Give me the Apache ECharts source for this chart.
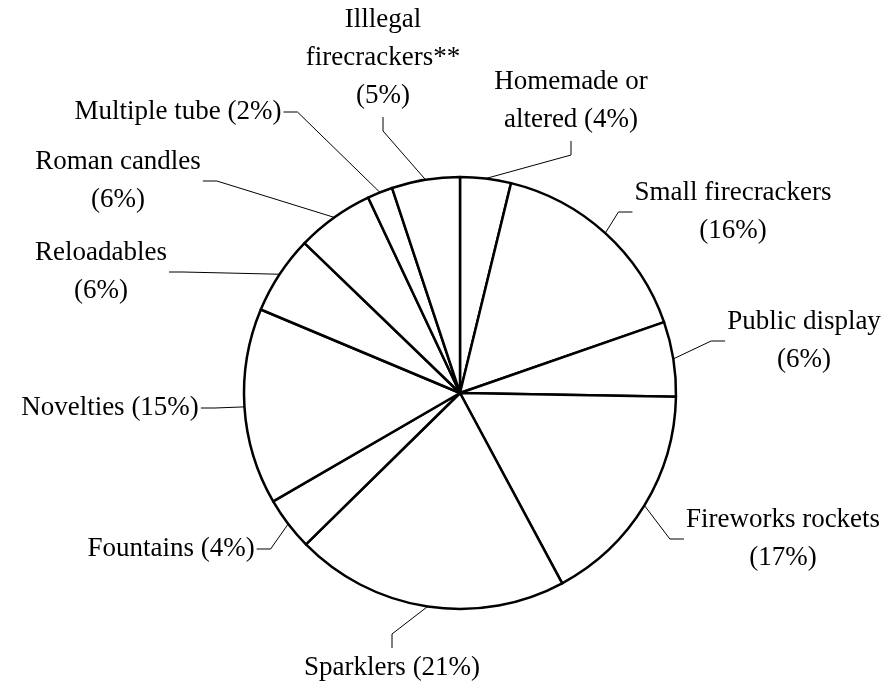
<!DOCTYPE html>
<html>
<head>
<meta charset="utf-8">
<script src="https://cdn.jsdelivr.net/npm/echarts@6.0.0/dist/echarts.min.js"></script>
<style>
  html, body { margin: 0; padding: 0; background: #fff; }
  #chart { width: 890px; height: 689px; }
</style>
</head>
<body>
<div id="chart"></div>
<script>
// slices clockwise from 12 o'clock, values in percent
const categories = ['Homemade or altered', 'Small firecrackers', 'Public display', 'Fireworks rockets',
  'Sparklers', 'Fountains', 'Novelties', 'Reloadables', 'Roman candles', 'Multiple tube', 'Illlegal firecrackers**'];
const shares = [3.8, 15.9, 5.6, 16.9, 20.5, 4.0, 14.7, 5.9, 5.8, 1.9, 5.1];
const labelText = [
  'Homemade or\naltered (4%)',
  'Small firecrackers\n(16%)',
  'Public display\n(6%)',
  'Fireworks rockets\n(17%)',
  'Sparklers (21%)',
  'Fountains (4%)',
  'Novelties (15%)',
  'Reloadables\n(6%)',
  'Roman candles\n(6%)',
  'Multiple tube (2%)',
  'Illlegal\nfirecrackers**\n(5%)'
];

// label placement: centre x, centre y, side the leader line joins
const labelPos = [
  [571, 101, 'bottom'],
  [733, 212, 'left'],
  [804, 341, 'left'],
  [783, 539, 'left'],
  [392, 668, 'top'],
  [171, 549, 'right'],
  [110, 408, 'right'],
  [101, 272, 'right'],
  [118, 181, 'right'],
  [178, 112, 'right'],
  [383, 58, 'bottom']
];
const elbow = 14;

const chart = echarts.init(document.getElementById('chart'));

chart.setOption({
  backgroundColor: '#fff',
  animation: false,
  series: [
    {
      type: 'pie',
      center: [460, 393],
      radius: 216,
      startAngle: 90,
      clockwise: true,
      avoidLabelOverlap: false,
      silent: true,
      data: categories.map((name, i) => ({ name: name, value: shares[i] })),
      itemStyle: {
        color: '#fff',
        borderColor: '#000',
        borderWidth: 2.5
      },
      label: {
        show: true,
        position: 'outside',
        formatter: p => labelText[p.dataIndex],
        fontFamily: 'Liberation Serif',
        fontSize: 27,
        lineHeight: 38,
        color: '#000',
        align: 'center'
      },
      labelLine: {
        show: true,
        length: 20,
        length2: 14,
        lineStyle: { color: '#000', width: 1 }
      },
      labelLayout: function (params) {
        const pos = labelPos[params.dataIndex];
        const x = pos[0], y = pos[1], side = pos[2];
        const w = params.labelRect.width, h = params.labelRect.height;
        let end, bend;
        if (side === 'left') {
          end = [x - w / 2 - 2, y];
          bend = [end[0] - elbow, y];
        } else if (side === 'right') {
          end = [x + w / 2 + 2, y];
          bend = [end[0] + elbow, y];
        } else if (side === 'top') {
          end = [x, y - h / 2 - 1];
          bend = [x, end[1] - elbow];
        } else {
          end = [x, y + h / 2 + 2];
          bend = [x, end[1] + elbow];
        }
        return {
          x: x,
          y: y,
          align: 'center',
          verticalAlign: 'middle',
          labelLinePoints: [params.labelLinePoints[0], bend, end]
        };
      }
    }
  ]
});
</script>
</body>
</html>
